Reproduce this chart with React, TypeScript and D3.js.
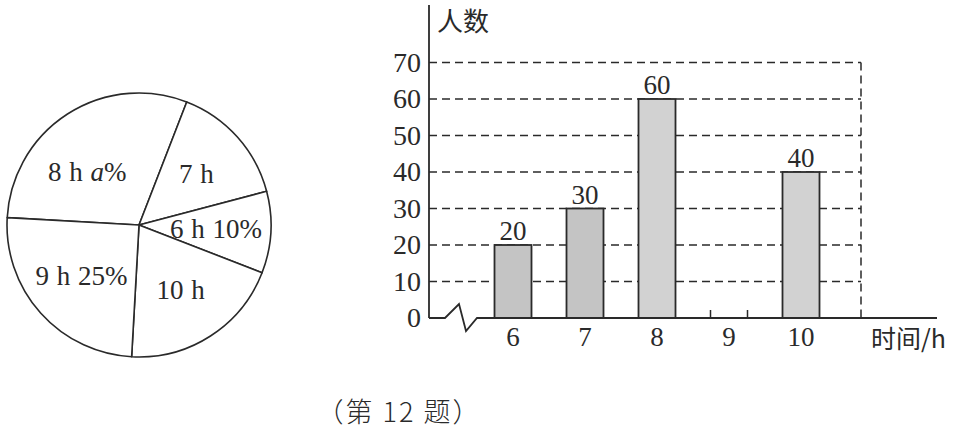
import React from 'react';
import * as d3 from 'd3';

// ---- data ----
const hours = ['6', '7', '8', '9', '10'];
const counts: (number | null)[] = [20, 30, 60, null, 40];
const yTicks = [0, 10, 20, 30, 40, 50, 60, 70];
const pieCategories = ['8', '7', '6', '10', '9'];
const piePercents = [30, 15, 10, 20, 25];
const piePercentText = ['a%', '', '10%', '', '25%'];
const yTitle = '人数';
const xTitle = '时间/h';
const caption = '（第 12 题）';

// ---- layout ----
const W = 957;
const H = 430;
const ink = '#2a2a2a';
const serif = "'Liberation Serif', 'DejaVu Serif', serif";
const cjk = "'Noto Sans CJK SC', sans-serif";

const pieCx = 139;
const pieCy = 225;
const pieR = 132;
const pieStart = (-86.8 * Math.PI) / 180;
const labelNudge: Record<string, [number, number]> = { '8': [-10, 12] };

const axisX = 429;
const axisTop = 5;
const axisRight = 937;
const gridRight = 861;
const barW = 37;

export default function App() {
  const y = d3.scaleLinear().domain([0, 70]).range([318, 62.5]);
  const x = d3.scalePoint<string>().domain(hours).range([513, 801]);
  const y0 = y(0);

  const pie = d3
    .pie<number>()
    .sort(null)
    .value((d) => d)
    .startAngle(pieStart)
    .endAngle(pieStart + 2 * Math.PI);
  const arcs = pie(piePercents);
  const arc = d3.arc<d3.PieArcDatum<number>>().innerRadius(0).outerRadius(pieR);
  const labelArc = d3.arc<d3.PieArcDatum<number>>().innerRadius(154).outerRadius(0);

  const zig = `M${axisX},${y0} L${axisX + 16},${y0} L${axisX + 30},${y0 - 14} L${axisX + 37},${y0 + 13} L${axisX + 48},${y0} L${axisRight},${y0}`;

  const serifStyle = { fontFamily: serif };
  const cjkStyle = { fontFamily: cjk };

  return (
    <svg
      width={W}
      height={H}
      style={{ position: 'absolute', left: 0, top: 0, background: '#fff' }}
    >
      {/* pie */}
      <g transform={`translate(${pieCx},${pieCy})`}>
        {arcs.map((a, i) => (
          <path key={i} d={arc(a) || ''} fill="#fff" stroke={ink} strokeWidth={1.6} strokeLinejoin="round" />
        ))}
        {arcs.map((a, i) => {
          const [cx, cy] = labelArc.centroid(a);
          const cat = pieCategories[i];
          const nd = labelNudge[cat] || [0, 0];
          const pt = piePercentText[i];
          return (
            <text
              key={'l' + i}
              x={cx + nd[0]}
              y={cy + nd[1] + 9}
              textAnchor="middle"
              style={serifStyle}
              fontSize={27}
              fill={ink}
              wordSpacing={1}
            >
              {cat} h
              {pt === 'a%' ? (
                <>
                  {' '}
                  <tspan fontStyle="italic">a</tspan>%
                </>
              ) : pt ? (
                ' ' + pt
              ) : null}
            </text>
          );
        })}
      </g>

      {/* gridlines */}
      {yTicks
        .filter((t) => t > 0)
        .map((t) => (
          <line
            key={'g' + t}
            x1={axisX}
            x2={gridRight}
            y1={y(t)}
            y2={y(t)}
            stroke={ink}
            strokeWidth={1.5}
            strokeDasharray="8,5"
          />
        ))}
      <line
        x1={gridRight}
        x2={gridRight}
        y1={y(70)}
        y2={y0}
        stroke={ink}
        strokeWidth={1.5}
        strokeDasharray="8,5"
      />

      {/* bars */}
      {hours.map((h, i) => {
        const v = counts[i];
        const cx = x(h) as number;
        if (v == null) {
          return (
            <g key={'b' + h}>
              <line x1={cx - barW / 2} x2={cx - barW / 2} y1={y0} y2={y0 - 8} stroke={ink} strokeWidth={1.5} />
              <line x1={cx + barW / 2} x2={cx + barW / 2} y1={y0} y2={y0 - 8} stroke={ink} strokeWidth={1.5} />
            </g>
          );
        }
        return (
          <g key={'b' + h}>
            <rect
              x={cx - barW / 2}
              y={y(v)}
              width={barW}
              height={y0 - y(v)}
              fill={i < 2 ? '#c4c4c4' : '#d2d2d2'}
              stroke={ink}
              strokeWidth={1.8}
            />
            <text x={cx} y={y(v) - 5} textAnchor="middle" style={serifStyle} fontSize={27} fill={ink}>
              {v}
            </text>
          </g>
        );
      })}

      {/* axes */}
      <line x1={axisX} x2={axisX} y1={axisTop} y2={y0} stroke={ink} strokeWidth={1.8} />
      <path d={zig} fill="none" stroke={ink} strokeWidth={1.8} strokeLinejoin="miter" />

      {yTicks.map((t) => (
        <text
          key={'yt' + t}
          x={421}
          y={y(t) + 9}
          textAnchor="end"
          style={serifStyle}
          fontSize={28}
          fill={ink}
        >
          {t}
        </text>
      ))}
      {hours.map((h) => (
        <text
          key={'xt' + h}
          x={x(h) as number}
          y={y0 + 28}
          textAnchor="middle"
          style={serifStyle}
          fontSize={27}
          fill={ink}
        >
          {h}
        </text>
      ))}

      <text x={437} y={31} style={cjkStyle} fontSize={26} fill={ink}>
        {yTitle}
      </text>
      <text x={871} y={348} style={cjkStyle} fontSize={25} fill={ink}>
        {xTitle}
      </text>
      <text
        x={399}
        y={422}
        textAnchor="middle"
        style={cjkStyle}
        fontSize={27}
        fontWeight={300}
        letterSpacing={2}
        fill={ink}
      >
        {caption}
      </text>
    </svg>
  );
}
